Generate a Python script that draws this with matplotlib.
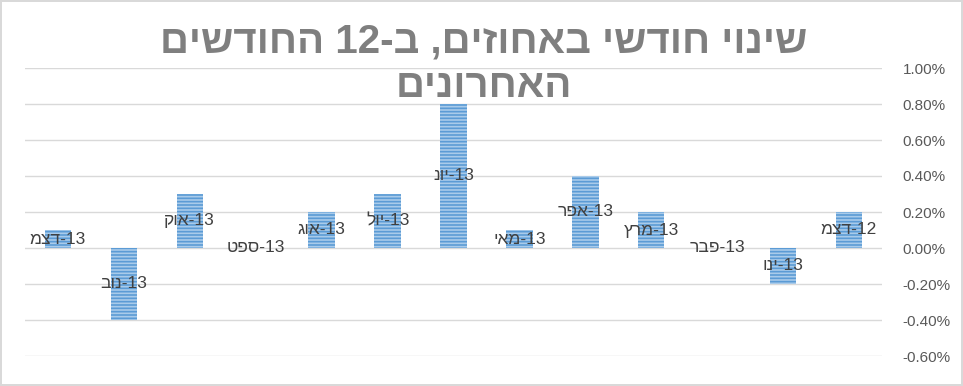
import re
import matplotlib
matplotlib.use('Agg')
import matplotlib.pyplot as plt
from matplotlib.ticker import PercentFormatter, MultipleLocator
import numpy as np

plt.rcParams['font.family'] = ['Liberation Sans', 'DejaVu Sans']
plt.rcParams['axes.unicode_minus'] = False
plt.rcParams['hatch.linewidth'] = 1.2

# chronological order, Dec-12 .. Dec-13
month_names = ['דצמ', 'ינו', 'פבר', 'מרץ', 'אפר', 'מאי', 'יונ',
               'יול', 'אוג', 'ספט', 'אוק', 'נוב', 'דצמ']
years = ['12', '13', '13', '13', '13', '13', '13',
         '13', '13', '13', '13', '13', '13']
change_pct = [0.2, -0.2, 0.0, 0.2, 0.4, 0.1, 0.8,
              0.3, 0.2, 0.0, 0.3, -0.4, 0.1]

title_lines = ['שינוי חודשי באחוזים, ב-12 החודשים', 'האחרונים']


def visual(line):
    # matplotlib draws left to right: flip the line, keep numbers readable
    rev = line[::-1]
    return re.sub(r'\d+', lambda m: m.group(0)[::-1], rev)


title = '\n'.join(visual(t) for t in title_lines)
# hebrew part shown right-to-left, then the year
labels = [f'{m[::-1]}-{y}' for m, y in zip(month_names, years)]

W, H = 963, 386
fig = plt.figure(figsize=(W / 100, H / 100), dpi=100)
fig.patch.set_edgecolor('#D9D9D9')
fig.patch.set_linewidth(1.5)

ax = fig.add_axes([25 / W, 30 / H, 857 / W, 288 / H])
x = np.arange(len(change_pct))
bars = ax.bar(x, change_pct, width=0.4, color='#A9CBEA', edgecolor='#5B9BD5',
              linewidth=0, hatch='-----', zorder=2)

for xi, v, lab in zip(x, change_pct, labels):
    ax.text(xi, v / 2, lab, ha='center', va='center', fontsize=12.5,
            color='#404040', zorder=3)

ax.set_xlim(-0.5, len(x) - 0.5)
ax.invert_xaxis()
ax.set_ylim(-0.6, 1.0)
ax.yaxis.set_major_locator(MultipleLocator(0.2))
ax.yaxis.set_major_formatter(PercentFormatter(decimals=2))
ax.yaxis.tick_right()
ax.tick_params(axis='y', length=0, pad=15, labelsize=11, labelcolor='#595959')
ax.set_xticks([])
ax.grid(axis='y', color='#D9D9D9', linewidth=1, zorder=0)
for s in ax.spines.values():
    s.set_visible(False)

fig.text(0.502, 0.835, title, ha='center', va='center', fontsize=29,
         fontweight='bold', color='#7F7F7F', linespacing=1.2)

fig.savefig('out.png', dpi=100)
